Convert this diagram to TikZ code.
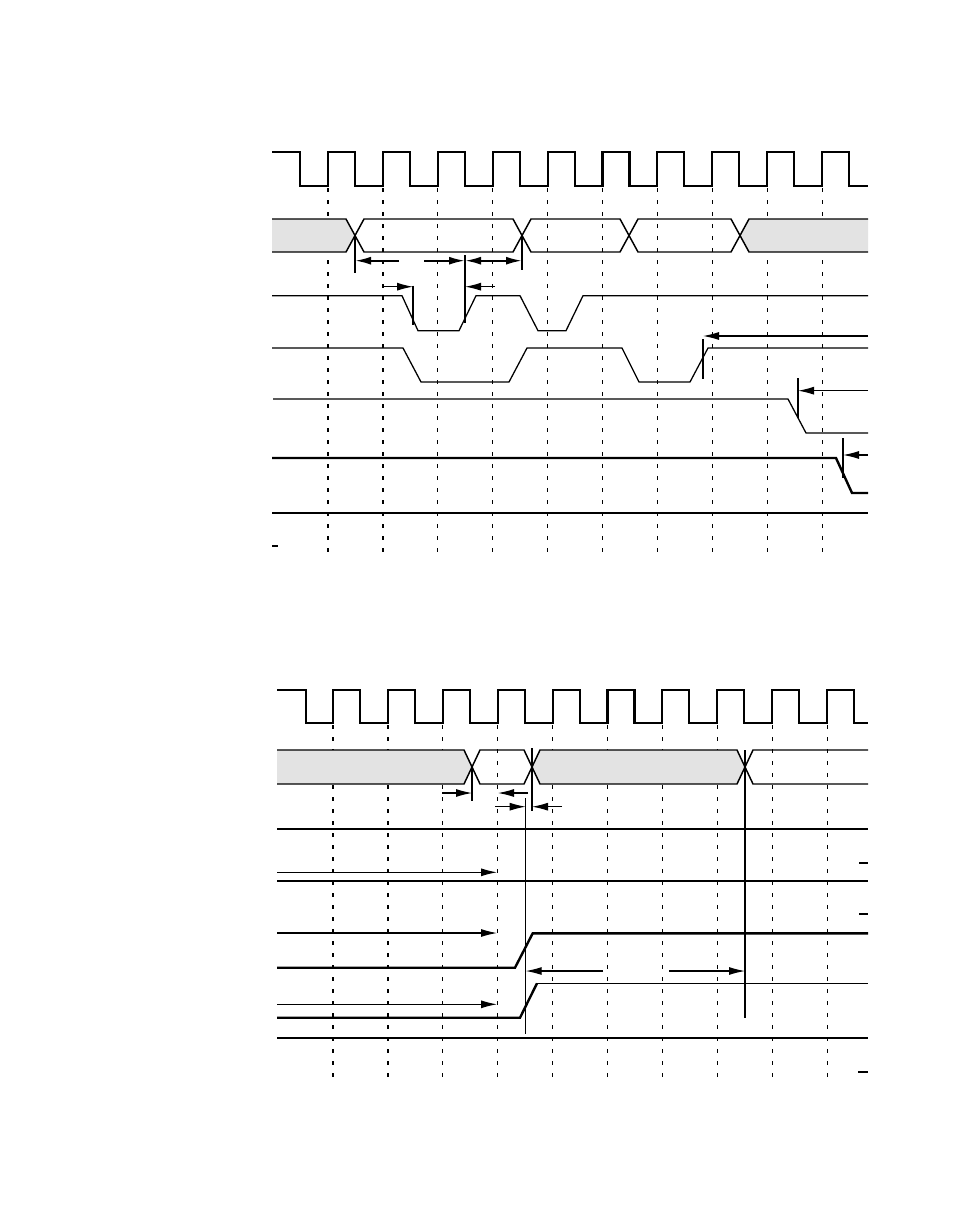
\documentclass[tikz,border=0pt]{standalone}
\usepackage{tikz}
\usetikzlibrary{arrows.meta}
\definecolor{busgray}{gray}{0.89}
\tikzset{
  clk/.style={line width=1.6pt, line join=miter},
  bus/.style={line width=1.1pt},
  sig/.style={line width=0.95pt},
  sigthick/.style={line width=1.8pt},
  tick/.style={line width=0.9pt, dash pattern=on 3pt off 6pt},
  marker/.style={line width=0.8pt},
  timing/.style={line width=0.8pt, ->},
  timingthick/.style={line width=1.5pt, ->}
}
\newcommand{\clkperiod}{54.9}

\begin{document}
\begin{tikzpicture}[x=0.75pt, y=-0.75pt, >={Latex[length=12pt,width=6pt]}]
\useasboundingbox (0,0) rectangle (954,1227);

%% upper diagram
\draw[clk] (272,152) -- (300,152) -- (300,186)
  \foreach \k in {0,...,9} { -- ({328+\clkperiod*\k},186) -- ({328+\clkperiod*\k},152)
  -- ({355+\clkperiod*\k},152) -- ({355+\clkperiod*\k},186) } -- (868,186);
\foreach \k in {0,...,9}
  \draw[tick] ({328+\clkperiod*\k},188) -- ({328+\clkperiod*\k},558);
% address bus
\fill[busgray] (272,219) -- (346,219) -- (355,235.5) -- (346,252) -- (272,252) -- cycle;
\fill[busgray] (868,219) -- (749,219) -- (740,235.5) -- (749,252) -- (868,252) -- cycle;
\draw[bus] (272,219) -- (346,219) -- (364,252) -- (513,252) -- (531,219) -- (620,219)
  -- (638,252) -- (731,252) -- (749,219) -- (868,219);
\draw[bus] (272,252) -- (346,252) -- (364,219) -- (513,219) -- (531,252) -- (620,252)
  -- (638,219) -- (731,219) -- (749,252) -- (868,252);
% signals
\draw[sig] (272,295.7) -- (402,295.7) -- (418,330.7) -- (459,330.7) -- (476,295.7)
  -- (520,295.7) -- (538,330.7) -- (566,330.7) -- (583,295.7) -- (868,295.7);
\draw[sig] (272,348) -- (403,348) -- (421,382) -- (509,382) -- (527,348) -- (622,348)
  -- (639,382) -- (690,382) -- (708,348) -- (868,348);
\draw[sig] (273,399) -- (788,399) -- (806,433) -- (868,433);
\draw[sigthick] (272,458) -- (836,458) -- (852,493) -- (868,493);
\draw[sig] (272,513) -- (868,513);
\draw[sigthick] (272,545.7) -- (278,545.7);
% markers
\coordinate (ua) at (355,235.5);
\coordinate (ub) at (522,235.5);
\coordinate (uc) at (465,255);
\coordinate (ud) at (413,285.7);
\coordinate (ue) at (703,339);
\coordinate (uf) at (798,378);
\coordinate (ug) at (843,438);
\draw[marker] (ua) -- ++(0,37.5);
\draw[marker] (ub) -- ++(0,34.5);
\draw[marker] (uc) -- ++(0,68);
\draw[marker] (ud) -- ++(0,39.3);
\draw[marker] (ue) -- ++(0,40);
\draw[marker] (uf) -- ++(0,40);
\draw[marker] (ug) -- ++(0,40);
% timing arrows
\draw[timingthick] (399,260.7) -- (ua |- 0,260.7);
\draw[timingthick] (424,260.7) -- (uc |- 0,260.7);
\draw[timingthick, <->] (uc |- 0,260.7) -- (ub |- 0,260.7);
\draw[timing] (382,286.7) -- (ud |- 0,286.7);
\draw[timing] (495,286.7) -- (uc |- 0,286.7);
\draw[timing] (868,336) -- (ue |- 0,336);
\draw[timing] (868,390.7) -- (uf |- 0,390.7);
\draw[timing] (868,455) -- (ug |- 0,455);

%% lower diagram
\draw[clk] (277,690) -- (306,690) -- (306,723)
  \foreach \k in {0,...,9} { -- ({333+\clkperiod*\k},723) -- ({333+\clkperiod*\k},690)
  -- ({360+\clkperiod*\k},690) -- ({360+\clkperiod*\k},723) } -- (868,723);
\foreach \k in {0,...,9}
  \draw[tick] ({333+\clkperiod*\k},725) -- ({333+\clkperiod*\k},1080);
% address bus
\fill[busgray] (277,750) -- (464,750) -- (472,767) -- (464,784) -- (277,784) -- cycle;
\fill[busgray] (540,750) -- (737,750) -- (745,767) -- (737,784) -- (540,784) -- (532,767) -- cycle;
\draw[bus] (277,750) -- (464,750) -- (480,784) -- (524,784) -- (540,750) -- (737,750)
  -- (753,784) -- (868,784);
\draw[bus] (277,784) -- (464,784) -- (480,750) -- (524,750) -- (540,784) -- (737,784)
  -- (753,750) -- (868,750);
% signals
\draw[sig] (277,829) -- (868,829);
\draw[sigthick] (277,881) -- (868,881);
\draw[sigthick] (277,967.7) -- (515,967.7) -- (532.7,933.3) -- (868,933.3);
\draw[sigthick] (277,1017.7) -- (520,1017.7) -- (537,983.3);
\draw[sig] (537,983.3) -- (868,983.3);
\draw[sigthick] (277,1037.7) -- (868,1037.7);
\draw[sig] (859,863) -- (868,863);
\draw[sigthick] (859,914) -- (868,914);
\draw[sig] (858,1072) -- (868,1072);
% markers
\coordinate (la) at (472,767);
\coordinate (lb) at (532,748);
\coordinate (lc) at (525.7,798);
\coordinate (ld) at (745,750);
\draw[marker] (la) -- ++(0,33.7);
\draw[marker] (lb) -- ++(0,62.7);
\draw[marker] (lc) -- ++(0,236);
\draw[marker] (ld) -- ++(0,268);
% timing arrows
\draw[timing] (442,793) -- (la |- 0,793);
\draw[timing] (528,793) -- (498,793);
\draw[timing] (495,806.7) -- (lc |- 0,806.7);
\draw[timing] (562,806.7) -- (lb |- 0,806.7);
\draw[timing] (277,872.3) -- (497,872.3);
\draw[timing] (277,933) -- (497,933);
\draw[timing] (277,1004.3) -- (497,1004.3);
\draw[timing] (603,971) -- (lc |- 0,971);
\draw[timing] (669,971) -- (ld |- 0,971);
\end{tikzpicture}
\end{document}
